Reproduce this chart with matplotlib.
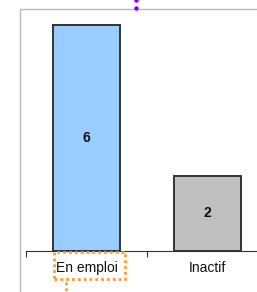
import matplotlib.pyplot as plt
from matplotlib.patches import Rectangle
from matplotlib.lines import Line2D

# data
categories = ["En emploi", "Inactif"]
values = [6, 2]
bar_colors = ["#99CCFF", "#C0C0C0"]

W, H = 257, 292
fig = plt.figure(figsize=(W / 100, H / 100), dpi=100)
plt.rcParams['font.family'] = ['Liberation Sans', 'DejaVu Sans']

def fx(px):
    return px / W

def fy(py):
    return 1 - py / H

# axes in pixel space: x 26..268, y 251 (bottom) .. 9 (top)
ax = fig.add_axes([fx(26), fy(251), 242 / W, 242 / H])
x = range(len(categories))
bars = ax.bar(x, values, width=0.56, color=bar_colors, edgecolor="#333333", linewidth=1.4)
for b, v in zip(bars, values):
    ax.text(b.get_x() + b.get_width() / 2, v / 2, str(v), ha="center", va="center",
            fontsize=10, fontweight="bold", color="#111111")

ax.set_xlim(-0.5, 1.5)
ax.set_ylim(0, 6 * 242 / 226)
for s in ["top", "right", "left"]:
    ax.spines[s].set_visible(False)
ax.spines["bottom"].set_color("#333333")
ax.spines["bottom"].set_linewidth(0.8)
ax.set_yticks([])
ax.set_xticks(list(x))
ax.set_xticklabels(categories, fontsize=10, color="#111111")
ax.tick_params(axis="x", which="major", length=0, pad=7)
ax.set_xticks([-0.5, 0.5, 1.5], minor=True)
ax.tick_params(axis="x", which="minor", length=4, width=0.8, color="#333333")
ax.patch.set_visible(False)

# outer gray frame
fig.patches.append(Rectangle((fx(20), fy(300)), fx(300), fy(9) - fy(300),
                             transform=fig.transFigure, fill=False,
                             edgecolor="#BBBBBB", linewidth=1, zorder=0))

# purple dotted connector at top
fig.lines.append(Line2D([fx(136), fx(136)], [fy(0), fy(8)], transform=fig.transFigure,
                        color="#7F00FF", linestyle="none", marker="o", markersize=2.2))

# orange dotted highlight around label
dots = (0, (1, 1.1))
fig.patches.append(Rectangle((fx(54), fy(279)), fx(125) - fx(54), fy(252) - fy(279),
                             transform=fig.transFigure, fill=False,
                             edgecolor="#FF9933", linewidth=2, linestyle=dots))
fig.lines.append(Line2D([fx(66), fx(66)], [fy(282), fy(292)], transform=fig.transFigure,
                        color="#FF9933", linewidth=2, linestyle=dots))

fig.savefig("out.png", dpi=100)
